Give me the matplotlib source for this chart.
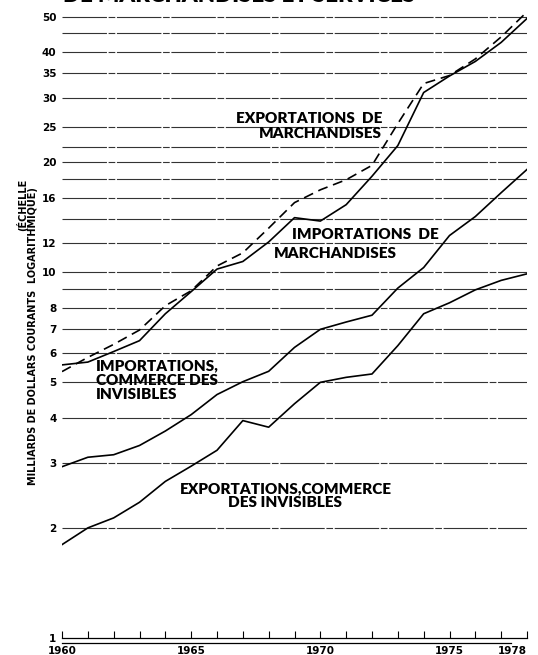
import numpy as np
import matplotlib.pyplot as plt
from matplotlib.lines import Line2D

years = list(range(1960, 1979))

# milliards de dollars courants
exp_marchandises = [5.35, 5.85, 6.35, 6.95, 8.1, 8.9, 10.4, 11.3, 13.2, 15.5,
                    16.8, 17.9, 19.6, 25.5, 32.8, 34.5, 38.3, 44.0, 51.5]
imp_marchandises = [5.58, 5.68, 6.07, 6.5, 7.7, 8.85, 10.2, 10.7, 12.1, 14.1,
                    13.8, 15.3, 18.3, 22.2, 31.0, 34.4, 37.7, 42.5, 49.4]
imp_invisibles = [2.94, 3.12, 3.17, 3.36, 3.68, 4.08, 4.63, 5.02, 5.36, 6.23,
                  6.98, 7.31, 7.63, 9.05, 10.3, 12.6, 14.2, 16.5, 19.1]
exp_invisibles = [1.80, 2.0, 2.13, 2.35, 2.68, 2.95, 3.26, 3.93, 3.77, 4.37,
                  5.0, 5.16, 5.27, 6.3, 7.7, 8.25, 8.95, 9.5, 9.9]

grid_values = [2, 3, 4, 5, 6, 7, 8, 9, 10, 12, 14, 16, 18, 20, 22, 25, 30, 35, 40, 45, 50]
ytick_values = [1, 2, 3, 4, 5, 6, 7, 8, 10, 12, 16, 20, 25, 30, 35, 40, 50]
xtick_years = [1960, 1965, 1970, 1975, 1978]

label_font = ['Lato', 'DejaVu Sans']

fig = plt.figure(figsize=(5.38, 6.55), dpi=100)
ax = fig.add_axes([62 / 538, 17 / 655, 465 / 538, 638 / 655])
ax.set_yscale('log')
ax.set_ylim(1, 55.5)
ax.set_xlim(1960, 1978)

# broken-looking horizontal rules
for v in grid_values:
    ax.axhline(v, color='#333333', lw=0.8, ls=(0, (40, 1.5, 6, 1.5)), zorder=1)

ax.plot(years, exp_marchandises, color='black', lw=1.2, ls=(0, (6, 3.5)), zorder=3)
ax.plot(years, imp_marchandises, color='black', lw=1.2, zorder=3)
ax.plot(years, imp_invisibles, color='black', lw=1.2, zorder=3)
ax.plot(years, exp_invisibles, color='black', lw=1.2, zorder=3)

for s in ['left', 'top', 'right']:
    ax.spines[s].set_visible(False)
ax.spines['bottom'].set_linewidth(0.9)

ax.set_yticks(ytick_values)
ax.set_yticklabels([str(v) for v in ytick_values])
ax.yaxis.set_minor_locator(plt.NullLocator())
ax.tick_params(axis='y', length=0, pad=4, labelsize=7.5)
for t in ax.get_yticklabels():
    t.set_fontweight('bold')

ax.set_xticks(years, minor=True)
ax.set_xticks(xtick_years)
ax.set_xticklabels([str(y) for y in xtick_years])
ax.tick_params(axis='x', which='both', direction='in', length=5, width=0.8,
               pad=6, labelsize=7.5)
for t in ax.get_xticklabels():
    t.set_fontweight('bold')
ax.get_xticklabels()[-1].set_horizontalalignment('right')

# second rule under the axis
fig.add_artist(Line2D([62 / 538, 511 / 538], [12 / 655, 12 / 655], color='black', lw=0.9))

# series labels
kw = dict(fontsize=11, fontweight='heavy', family=label_font, zorder=4)
ax.text(1972.4, 25.1, 'EXPORTATIONS  DE\nMARCHANDISES', ha='right', va='center',
        multialignment='right', linespacing=1.2, **kw)
ax.text(1968.9, 12.7, 'IMPORTATIONS  DE', ha='left', va='center', **kw)
ax.text(1968.2, 11.27, 'MARCHANDISES', ha='left', va='center', **kw)
ax.text(1961.3, 5.07, 'IMPORTATIONS,\nCOMMERCE DES\nINVISIBLES', ha='left', va='center',
        multialignment='left', linespacing=1.1, **kw)
ax.text(1968.65, 2.45, 'EXPORTATIONS,COMMERCE\nDES INVISIBLES', ha='center', va='center',
        multialignment='center', linespacing=1.15, **kw)

# axis title, rotated
fig.text(33 / 538, 1 - 336 / 655, 'MILLIARDS DE DOLLARS COURANTS  LOGARITHMIQUE)',
         rotation=90, ha='center', va='center', fontsize=7, fontweight='bold')
fig.text(22 / 538, 1 - 205 / 655, '(ÉCHELLE', rotation=90, ha='center', va='center',
         fontsize=7, fontweight='bold')

# title, cut off at top of the page
fig.text(63 / 538, 1 - 2 / 655, 'DE MARCHANDISES ET SERVICES', ha='left', va='baseline',
         fontsize=16, fontweight='heavy', family=label_font)

fig.savefig('out.png', dpi=100)
